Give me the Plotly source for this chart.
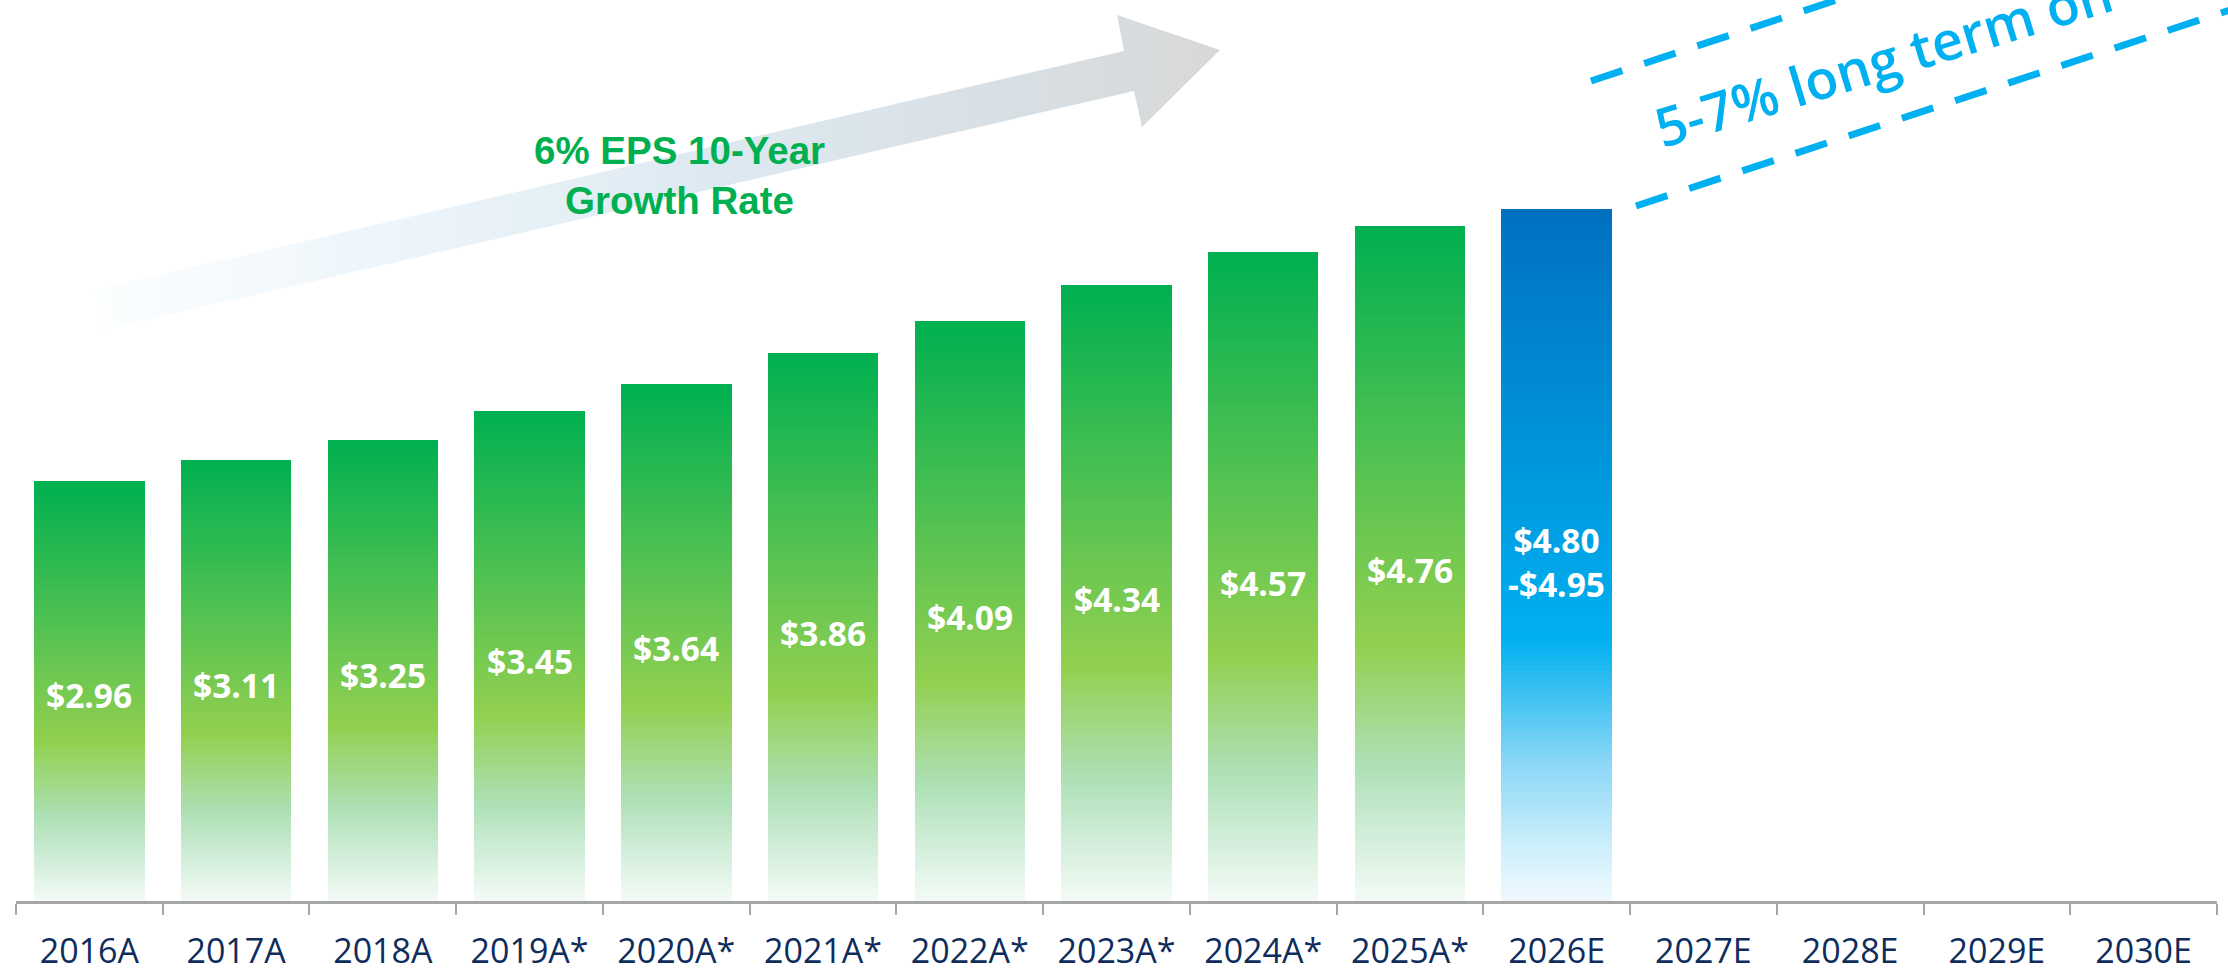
import plotly.graph_objects as go
from plotly.colors import sample_colorscale

# ---------------- data ----------------
categories = ["2016A", "2017A", "2018A", "2019A*", "2020A*", "2021A*", "2022A*",
              "2023A*", "2024A*", "2025A*", "2026E", "2027E", "2028E", "2029E", "2030E"]
bar_years = categories[:11]
eps_low = [2.96, 3.11, 3.25, 3.45, 3.64, 3.86, 4.09, 4.34, 4.57, 4.76, 4.80]
eps_high = [2.96, 3.11, 3.25, 3.45, 3.64, 3.86, 4.09, 4.34, 4.57, 4.76, 4.95]
is_estimate = [False] * 10 + [True]

growth_text = "6% EPS 10-Year<br>Growth Rate"
outlook_text = "5-7% long term on"

# ---------------- styles ----------------
W, H = 2228, 972
ML, MR, MT, MB = 16, 11, 0, 71
PW, PH = W - ML - MR, H - MT - MB
Y_TOP = 6.354

green_scale = [[0.0, "#f4fbf6"], [0.08, "#d8f0df"], [0.2, "#aee0b6"], [0.38, "#92d050"],
               [0.68, "#4dc052"], [1.0, "#00b050"]]
blue_scale = [[0.0, "#f0f9fe"], [0.08, "#cdeefb"], [0.2, "#8ad7f6"], [0.38, "#00b0f0"],
              [0.68, "#0092d8"], [1.0, "#0070c0"]]
N_SLICES = 120


def pxx(x):
    return (x - ML) / PW


def pxy(y):
    return 1 - (y - MT) / PH


heights = [(lo + hi) / 2 for lo, hi in zip(eps_low, eps_high)]
labels = [f"${lo:.2f}" if lo == hi else f"${lo:.2f}<br>-${hi:.2f}" for lo, hi in zip(eps_low, eps_high)]

fig = go.Figure()

fr = [(k + 0.5) / N_SLICES for k in range(N_SLICES)]
g_cols = sample_colorscale(green_scale, fr)
b_cols = sample_colorscale(blue_scale, fr)
for k in range(N_SLICES):
    cols = [b_cols[k] if est else g_cols[k] for est in is_estimate]
    fig.add_trace(go.Bar(
        x=bar_years, y=[h / N_SLICES for h in heights],
        marker=dict(color=cols, line=dict(color=cols, width=1)),
        hoverinfo="skip", showlegend=False,
    ))

# gradient arrow (decorative) on a pixel-space overlay axis
arrow_x = [95, 1124, 1117, 1220, 1142, 1134, 103, 95]
arrow_y = [290, 51, 15, 50, 127, 91, 330, 290]
fig.add_trace(go.Scatter(
    x=arrow_x, y=arrow_y, xaxis="x2", yaxis="y2", mode="lines", fill="toself",
    line=dict(width=0, color="rgba(0,0,0,0)"),
    fillgradient=dict(type="horizontal", start=95, stop=1220,
                      colorscale=[[0, "#fcfeff"], [0.3, "#ebf4fa"], [0.55, "#dde9f1"],
                                  [0.8, "#d8e0e5"], [1, "#d8d8d8"]]),
    hoverinfo="skip", showlegend=False,
))

annotations = []
for cat, h, lab in zip(bar_years, heights, labels):
    annotations.append(dict(x=cat, y=h * 0.49, xref="x", yref="y", text=f"<b>{lab}</b>",
                            showarrow=False, font=dict(family="Open Sans", size=33.5, color="white"),
                            xanchor="center", yanchor="middle"))

annotations.append(dict(x=pxx(679), y=pxy(175), xref="paper", yref="paper",
                        text=f"<b>{growth_text}</b>", showarrow=False, align="center",
                        font=dict(family="Liberation Sans, Arial", size=38.5, color="#00b050"),
                        xanchor="center", yanchor="middle"))

annotations.append(dict(x=pxx(1883), y=pxy(59), xref="paper", yref="paper",
                        text=outlook_text, showarrow=False, textangle=-17,
                        font=dict(family="Open Sans", size=54, color="#00b0f0", weight=600),
                        xanchor="center", yanchor="middle"))

slope = -0.33
shapes = []
for (x0, y0, x1) in [(1591, 81, 1880), (1636, 206, 2250)]:
    y1 = y0 + slope * (x1 - x0)
    shapes.append(dict(type="line", xref="paper", yref="paper",
                       x0=pxx(x0), y0=pxy(y0), x1=pxx(x1), y1=pxy(y1),
                       line=dict(color="#00b0f0", width=7, dash="33px,23px")))

fig.update_layout(
    width=W, height=H,
    margin=dict(l=ML, r=MR, t=MT, b=MB, pad=0),
    paper_bgcolor="white", plot_bgcolor="white",
    barmode="stack", bargap=0.254, showlegend=False,
    xaxis=dict(type="category", categoryorder="array", categoryarray=categories,
               range=[-0.5, 14.5], tickson="boundaries", ticks="outside", ticklen=11,
               tickwidth=2, tickcolor="#a6a6a6", showline=True, linewidth=3,
               linecolor="#a6a6a6", showgrid=False, zeroline=False,
               tickfont=dict(family="Open Sans", size=34, color="#0f2d5c"),
               ticklabelstandoff=18),
    yaxis=dict(range=[0, Y_TOP], visible=False, showgrid=False, zeroline=False),
    xaxis2=dict(overlaying="x", anchor="y2", range=[ML, W - MR], visible=False),
    yaxis2=dict(overlaying="y", anchor="x2", range=[H - MB, MT], visible=False),
    annotations=annotations, shapes=shapes,
)

fig.write_html("out.html", config={"displayModeBar": False},
               post_script="document.body.style.margin='0';")
